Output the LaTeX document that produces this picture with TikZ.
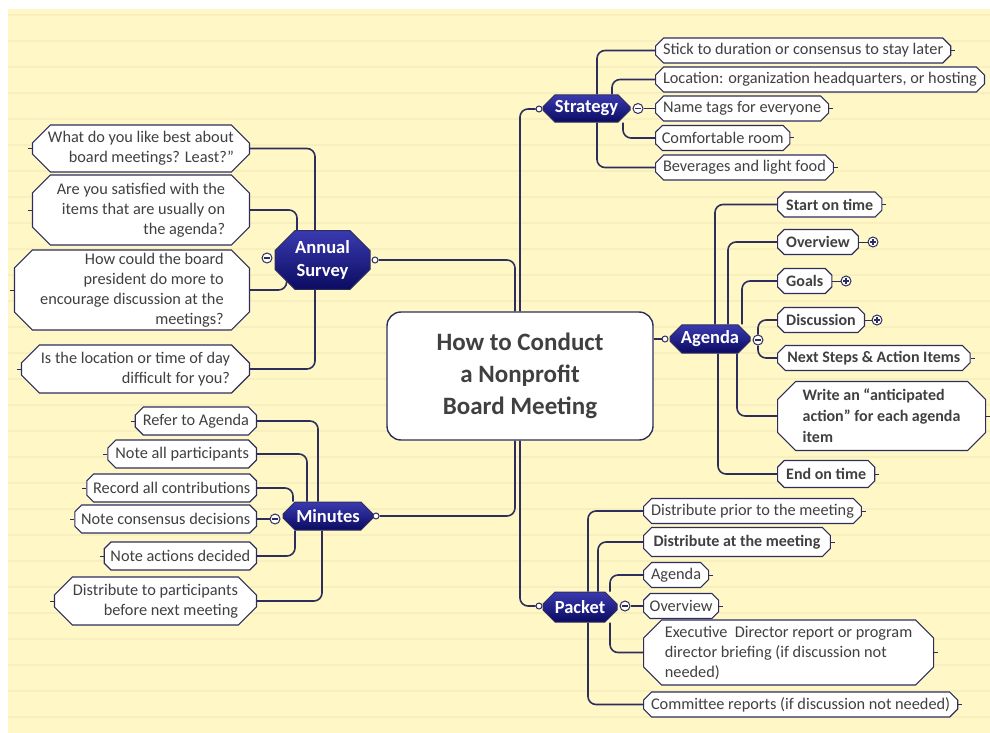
\documentclass[tikz,border=0pt]{standalone}
\usepackage{fontspec}
\setmainfont{Carlito}
\usetikzlibrary{shapes.misc,backgrounds}
\definecolor{mmpaper}{HTML}{FFF8C6}
\definecolor{mmrule}{HTML}{F8EFBE}
\definecolor{mmnavy}{HTML}{2E2E5E}
\definecolor{mmink}{HTML}{404040}
\definecolor{mmtop}{HTML}{3A3AB0}
\definecolor{mmbot}{HTML}{0B0B62}
\tikzset{
  link/.style={draw=mmnavy, line width=1.6pt, rounded corners=8pt},
  tick/.style={draw=mmnavy, line width=1pt},
  central/.style={draw=mmnavy, line width=1.4pt, fill=white, rounded corners=14pt,
    minimum width=266pt, minimum height=128pt, align=center, text=mmink,
    font=\bfseries\fontsize{25}{32}\selectfont},
  topic/.style={chamfered rectangle, chamfered rectangle xsep=6pt, chamfered rectangle ysep=6pt,
    draw=mmnavy, line width=1pt, top color=mmtop, bottom color=mmbot, text=white,
    align=center, inner sep=0pt, font=\bfseries\fontsize{18.5}{23}\selectfont},
  sub/.style={chamfered rectangle, chamfered rectangle xsep=4pt, chamfered rectangle ysep=4pt,
    draw=mmnavy, line width=1.1pt, fill=white, text=mmink, inner xsep=3.5pt, inner ysep=-3pt,
    minimum height=25pt, font=\fontsize{16.3}{20}\selectfont},
  subbig/.style={sub, chamfered rectangle xsep=9pt, chamfered rectangle ysep=9pt, inner ysep=-8pt},
  strong/.style={inner xsep=6pt, font=\bfseries\fontsize{16}{21}\selectfont},
  knob/.style={circle, draw=mmnavy, fill=white, line width=1pt, inner sep=0pt, minimum size=6pt},
  fold/.style={circle, draw=mmnavy, fill=white, line width=1pt, inner sep=0pt, minimum size=10pt,
    path picture={\draw[mmnavy, line width=1.2pt] ([xshift=2pt]path picture bounding box.west)
      -- ([xshift=-2pt]path picture bounding box.east);}},
  unfold/.style={circle, draw=mmnavy, fill=white, line width=1pt, inner sep=0pt, minimum size=10pt,
    path picture={\draw[mmnavy, line width=1.2pt] ([xshift=2pt]path picture bounding box.west)
      -- ([xshift=-2pt]path picture bounding box.east)
      ([yshift=-2pt]path picture bounding box.north) -- ([yshift=2pt]path picture bounding box.south);}},
}

\begin{document}
\begin{tikzpicture}[x=1pt, y=-1pt]
  \useasboundingbox (0,0) rectangle (990,733);
  % centre and main topics
  \node[central] (title) at (520,376) {How to Conduct\\a Nonprofit\\Board Meeting};
  \node[topic, minimum width=87pt, minimum height=27pt] (strategy) at (586.5,108.5) {Strategy};
  \node[topic, minimum width=95pt, minimum height=56pt, chamfered rectangle xsep=10pt, chamfered rectangle ysep=10pt] (survey) at (322.5,260) {Annual\\Survey};
  \node[topic, minimum width=80pt, minimum height=28pt] (agenda) at (710,339) {Agenda};
  \node[topic, minimum width=90pt, minimum height=28pt] (minutes) at (328,516) {Minutes};
  \node[topic, minimum width=74pt, minimum height=30pt] (packet) at (580,607) {Packet};
  %
  \node[knob] (strategy-k) at (539,109) {};
  \node[knob] (survey-k) at (375,260) {};
  \node[knob] (agenda-k) at (665,339) {};
  \node[knob] (minutes-k) at (376,516) {};
  \node[knob] (packet-k) at (539,606) {};
  \node[fold] (strategy-f) at (638,108.5) {};
  \node[fold] (survey-f) at (267,258) {};
  \node[fold] (agenda-f) at (758,340) {};
  \node[fold] (minutes-f) at (275,519) {};
  \node[fold] (packet-f) at (625,606) {};
  % strategy
  \node[sub, anchor=west] (stick) at (655,50.5) {Stick to duration or consensus to stay later};
  \node[sub, anchor=west] (location) at (655,79.5) {Location: organization headquarters, or hosting};
  \node[sub, anchor=west] (tags) at (655,108.5) {Name tags for everyone};
  \node[sub, anchor=west] (room) at (655,138) {Comfortable room};
  \node[sub, anchor=west] (bev) at (655,167.5) {Beverages and light food};
  % annual survey
  \node[subbig, anchor=east, align=right, minimum width=217pt, minimum height=47pt] (q1) at (250,148.5) {What do you like best about\\board meetings? Least?”};
  \node[subbig, anchor=east, align=right, minimum width=217pt, minimum height=70pt] (q2) at (250,210) {Are you satisfied with the\\items that are usually on\\the agenda?};
  \node[subbig, anchor=east, align=right, minimum width=235pt, minimum height=80pt] (q3) at (250,290) {How could the board\\president do more to\\encourage discussion at the\\meetings?};
  \node[subbig, anchor=east, align=right, minimum width=228pt, minimum height=48pt] (q4) at (250,369) {Is the location or time of day\\difficult for you?};
  % agenda
  \node[sub, strong, anchor=west] (astart) at (777,204.5) {Start on time};
  \node[sub, strong, anchor=west] (aover) at (777,242) {Overview};
  \node[sub, strong, anchor=west] (agoals) at (777,281) {Goals};
  \node[sub, strong, anchor=west] (adisc) at (777,320) {Discussion};
  \node[sub, strong, anchor=west] (anext) at (777,358) {Next Steps \& Action Items};
  \node[subbig, strong, anchor=west, align=left, minimum width=208pt, minimum height=69pt] (awrite) at (777,416) {Write an “anticipated\\action” for each agenda\\item};
  \node[sub, strong, anchor=west, minimum height=27pt] (aend) at (777,474) {End on time};
  \node[unfold] (aover-p) at (873,242) {};
  \node[unfold] (agoals-p) at (846,281) {};
  \node[unfold] (adisc-p) at (877,320) {};
  % minutes
  \node[sub, anchor=east, minimum height=28pt] (mrefer) at (257,421) {Refer to Agenda};
  \node[sub, anchor=east, minimum height=28pt] (mall) at (257,454) {Note all participants};
  \node[sub, anchor=east, minimum height=28pt] (mrecord) at (257,488) {Record all contributions};
  \node[sub, anchor=east, minimum height=28pt] (mcons) at (257,519) {Note consensus decisions};
  \node[sub, anchor=east, minimum height=28pt] (mact) at (257,556) {Note actions decided};
  \node[subbig, anchor=east, align=right, minimum width=202pt, minimum height=48pt] (mdist) at (257,601) {Distribute to participants\\before next meeting};
  % packet
  \node[sub, anchor=west] (pprior) at (643,511) {Distribute prior to the meeting};
  \node[sub, strong, anchor=west, minimum height=29pt] (pat) at (643,542) {Distribute at the meeting};
  \node[sub, anchor=west] (pagenda) at (643,575) {Agenda};
  \node[sub, anchor=west] (pover) at (643,606) {Overview};
  \node[subbig, anchor=west, align=left, minimum width=290pt, minimum height=65pt] (pexec) at (643,652.5) {Executive\ \ Director report or program\\director briefing (if discussion not\\needed)};
  \node[sub, anchor=west] (pcomm) at (643,704.5) {Committee reports (if discussion not needed)};
  %
  \begin{scope}[on background layer]
    \fill[mmpaper] (8,9) rectangle (990,733);
    \foreach \y in {15,41,...,725}
      \draw[mmrule, line width=1.5pt] (8,\y) -- (990,\y);
    % centre to main topics
    \draw[link] (title.north) |- (strategy-k);
    \draw[link] (survey-k) -| ([xshift=-5pt]title.north);
    \draw[link] (agenda-k -| title.east) -- (agenda-k);
    \draw[link] (minutes-k) -| ([xshift=-5pt]title.south);
    \draw[link] (title.south) |- (packet-k);
    % strategy
    \draw[link] ([xshift=10.5pt]strategy.north) |- (stick.west);
    \draw[link] ([xshift=25.5pt]strategy.north) |- (location.west);
    \draw[link] (strategy-f) -- (tags.west);
    \draw[link] ([xshift=36.5pt]strategy.south) |- (room.west);
    \draw[link] ([xshift=10.5pt]strategy.south) |- (bev.west);
    % annual survey
    \draw[link] ([xshift=-7.5pt]survey.north) |- (q1.east);
    \draw[link] ([xshift=-25.5pt]survey.north) |- (q2.east);
    \draw[link] ([xshift=2pt,yshift=10pt]survey.south west) |- (q3.east);
    \draw[link] ([xshift=-7.5pt]survey.south) |- (q4.east);
    % agenda
    \draw[link] ([xshift=5pt]agenda.north) |- (astart.west);
    \draw[link] ([xshift=18pt]agenda.north) |- (aover.west);
    \draw[link] ([xshift=32pt]agenda.north) |- (agoals.west);
    \draw[link] (agenda-f) |- (adisc.west);
    \draw[link] (agenda-f) |- (anext.west);
    \draw[link] ([xshift=27pt]agenda.south) |- (awrite.west);
    \draw[link] ([xshift=8pt]agenda.south) |- (aend.west);
    % minutes
    \draw[link] ([xshift=-10pt]minutes.north) |- (mrefer.east);
    \draw[link] ([xshift=-21pt]minutes.north) |- (mall.east);
    \draw[link] ([xshift=-35pt]minutes.north) |- (mrecord.east);
    \draw[link] (minutes-f) -- (mcons.east);
    \draw[link] ([xshift=-33pt]minutes.south) |- (mact.east);
    \draw[link] ([xshift=-6pt]minutes.south) |- (mdist.east);
    % packet
    \draw[link] ([xshift=8pt]packet.north) |- (pprior.west);
    \draw[link] ([xshift=18pt]packet.north) |- (pat.west);
    \draw[link] ([xshift=30pt]packet.north) |- (pagenda.west);
    \draw[link] (packet-f) -- (pover.west);
    \draw[link] ([xshift=30pt]packet.south) |- (pexec.west);
    \draw[link] ([xshift=8pt]packet.south) |- (pcomm.west);
    % collapsed branches and end ticks
    \draw[tick] (aover.east) -- (aover-p);
    \draw[tick] (agoals.east) -- (agoals-p);
    \draw[tick] (adisc.east) -- (adisc-p);
    \foreach \n in {stick,tags,room,bev,astart,anext,awrite,aend,pprior,pat,pagenda,pover,pexec,pcomm}
      \draw[tick] (\n.east) -- ++(4pt,0pt);
    \foreach \n in {q1,q2,q3,q4,mrefer,mall,mrecord,mcons,mact,mdist}
      \draw[tick] (\n.west) -- ++(-4pt,0pt);
  \end{scope}
\end{tikzpicture}
\end{document}
